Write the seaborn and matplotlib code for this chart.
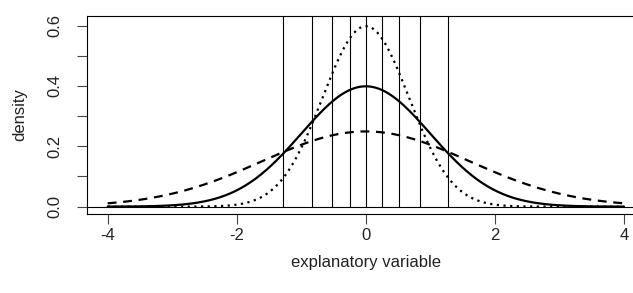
import numpy as np
import pandas as pd
import seaborn as sns
import matplotlib.pyplot as plt

# standard deviations of the three normal curves (read from the peaks)
sd_values = [1.0, 0.667, 1.6]
curve_names = ["solid", "dotted", "dashed"]
# deciles of the standard normal drawn as vertical lines
decile_x = [-1.28, -0.84, -0.52, -0.25, 0.0, 0.25, 0.52, 0.84, 1.28]
x_ticks = [-4, -2, 0, 2, 4]
y_ticks = [0.0, 0.1, 0.2, 0.3, 0.4, 0.5, 0.6]
y_labels = ["0.0", "", "0.2", "", "0.4", "", "0.6"]

x = np.linspace(-4, 4, 401)
frames = []
for name, sd in zip(curve_names, sd_values):
    dens = np.exp(-0.5 * (x / sd) ** 2) / (sd * np.sqrt(2 * np.pi))
    frames.append(pd.DataFrame({"x": x, "density": dens, "curve": name}))
df = pd.concat(frames, ignore_index=True)

sns.set_theme(style="white")
plt.rcParams["font.family"] = ["Liberation Sans", "DejaVu Sans"]
plt.rcParams["font.size"] = 12

fig = plt.figure(figsize=(6.33, 2.93), dpi=100)
W, H = 633, 293
left, right, top, bottom = 87, 644.6, 15.7, 214
ax = fig.add_axes([left / W, 1 - bottom / H, (right - left) / W, (bottom - top) / H])

dash_styles = {"solid": "", "dotted": (1, 2), "dashed": (4, 3)}
sns.lineplot(data=df, x="x", y="density", hue="curve", style="curve",
             palette={"solid": "black", "dotted": "black", "dashed": "black"},
             dashes=dash_styles, linewidth=1.6, legend=False, ax=ax,
             sort=False, estimator=None)

ax.vlines(decile_x, 0, 1, color="black", linewidth=0.8)
ax.axhline(0, color="black", linewidth=0.8)

ax.set_xlim(-4.32, 4.32)
ax.set_ylim(-0.0244, 0.633)
ax.set_xticks(x_ticks)
ax.set_xticklabels([str(t) for t in x_ticks])
ax.set_yticks(y_ticks)
ax.set_yticklabels(y_labels, rotation=90, va="center")

for s in ax.spines.values():
    s.set_color("black")
    s.set_linewidth(0.8)
ax.tick_params(axis="both", which="major", direction="out", length=7, width=0.8,
               color="#444444", labelcolor="#222222", labelsize=12)
ax.tick_params(axis="x", pad=3, bottom=True)
ax.tick_params(axis="y", pad=11, left=True)

ax.set_xlabel("explanatory variable", fontsize=12, color="#222222")
ax.set_ylabel("density", fontsize=12, color="#222222")
ax.xaxis.set_label_coords(0.5, (bottom - 262) / (bottom - top))
ax.xaxis.label.set_va("center")
ax.yaxis.set_label_coords((20 - left) / (right - left), 0.5)
ax.yaxis.label.set_va("center")

fig.savefig("out.png", dpi=100)
